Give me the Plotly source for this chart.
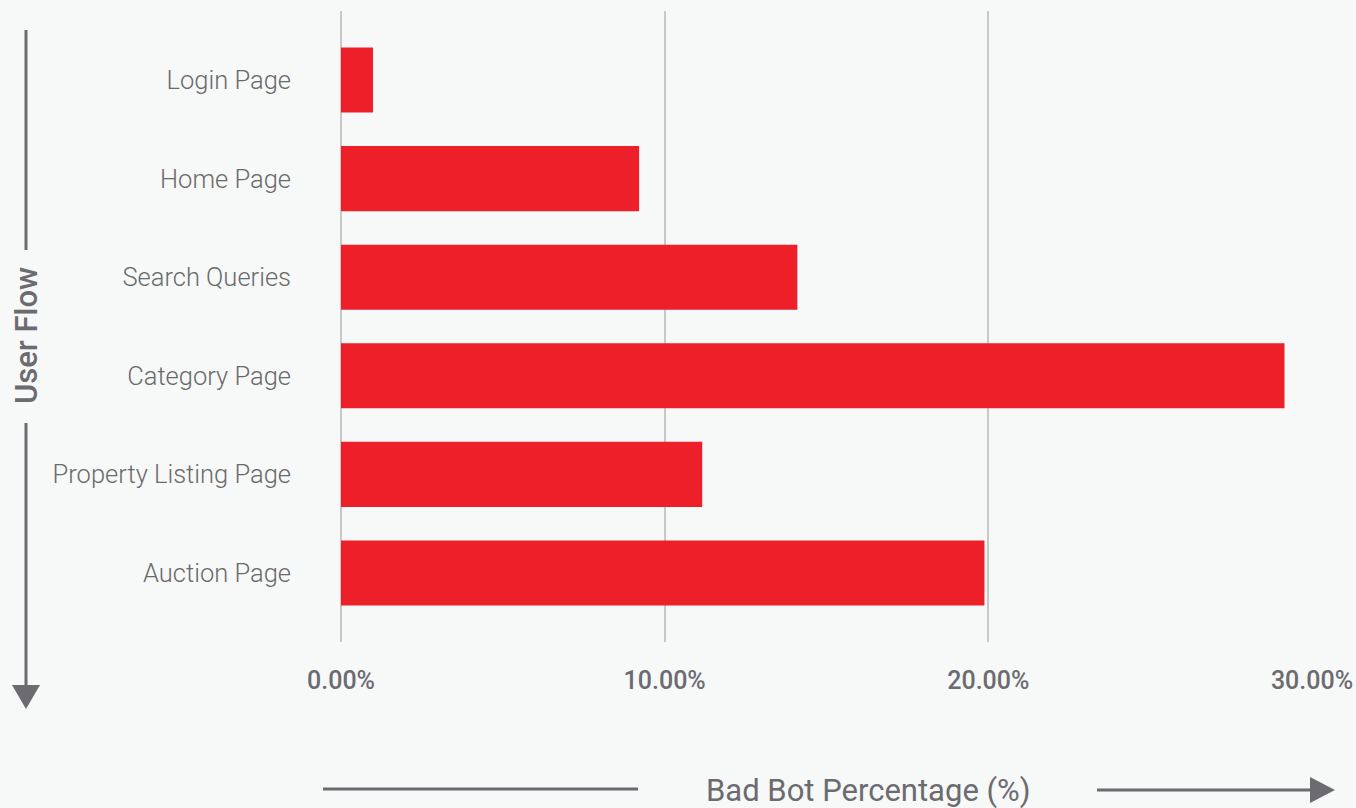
import plotly.graph_objects as go

categories = ["Login Page", "Home Page", "Search Queries", "Category Page",
              "Property Listing Page", "Auction Page"]
bad_bot_pct = [0.0099, 0.0921, 0.1410, 0.2915, 0.1116, 0.1988]
x_tick_vals = [0.0, 0.10, 0.20, 0.30]
x_tick_text = ["0.00%", "10.00%", "20.00%", "30.00%"]

W, H = 1356, 808
L, R, T, B = 341, 44, 11, 166
PW, PH = W - L - R, H - T - B

def px(x):
    return (x - L) / PW

def py(y):
    return (H - B - y) / PH

GREY = "#6b6b70"
BG = "#f7f8f8"

fig = go.Figure()
fig.add_trace(go.Bar(
    x=bad_bot_pct, y=categories, orientation="h",
    marker=dict(color="#ed2029", line=dict(width=0)),
    width=0.66, hoverinfo="x+y",
))

shapes = []
line_style = dict(color=GREY, width=3)
# vertical "User Flow" arrow
shapes.append(dict(type="line", xref="paper", yref="paper",
                   x0=px(26), x1=px(26), y0=py(30), y1=py(250), line=line_style))
shapes.append(dict(type="line", xref="paper", yref="paper",
                   x0=px(26), x1=px(26), y0=py(423), y1=py(690), line=line_style))
shapes.append(dict(type="path", xref="paper", yref="paper",
                   path=f"M {px(12)},{py(685)} L {px(40)},{py(685)} L {px(26)},{py(709)} Z",
                   fillcolor=GREY, line=dict(width=0)))
# horizontal "Bad Bot Percentage" arrow
shapes.append(dict(type="line", xref="paper", yref="paper",
                   x0=px(323), x1=px(638), y0=py(789), y1=py(789), line=line_style))
shapes.append(dict(type="line", xref="paper", yref="paper",
                   x0=px(1097), x1=px(1314), y0=py(790), y1=py(790), line=line_style))
shapes.append(dict(type="path", xref="paper", yref="paper",
                   path=f"M {px(1310)},{py(777)} L {px(1310)},{py(803)} L {px(1335)},{py(790)} Z",
                   fillcolor=GREY, line=dict(width=0)))

annotations = [
    dict(text="User Flow", xref="paper", yref="paper", x=px(26), y=py(336),
         showarrow=False, textangle=-90, xanchor="center", yanchor="middle",
         font=dict(family="Roboto", size=31, color=GREY, weight=500)),
    dict(text="Bad Bot Percentage (%)", xref="paper", yref="paper", x=px(868), y=py(790),
         showarrow=False, xanchor="center", yanchor="middle",
         font=dict(family="Roboto", size=31, color=GREY, weight=400)),
]

fig.update_layout(
    width=W, height=H,
    margin=dict(l=L, r=R, t=T, b=B, pad=0, autoexpand=False),
    paper_bgcolor=BG, plot_bgcolor=BG,
    showlegend=False,
    shapes=shapes,
    annotations=annotations,
    xaxis=dict(
        range=[0, 0.30], tickvals=x_tick_vals, ticktext=x_tick_text,
        showgrid=True, gridcolor="#c8c8c8", gridwidth=1.5,
        zeroline=True, zerolinecolor="#c8c8c8", zerolinewidth=1.5,
        showline=False, ticks="", ticklabelstandoff=21, automargin=False,
        tickfont=dict(family="Roboto", size=25, color=GREY, weight=500),
        fixedrange=True,
    ),
    yaxis=dict(
        categoryorder="array", categoryarray=categories,
        range=[5.7, -0.7],
        showgrid=False, zeroline=False, showline=False, ticks="",
        ticklabelstandoff=49, automargin=False,
        tickfont=dict(family="Roboto", size=25.5, color="#6a6a6a", weight=300),
        fixedrange=True,
    ),
)

fig.write_html("out.html", config={"displayModeBar": False},
               post_script="document.body.style.margin='0';document.body.style.padding='0';document.body.style.overflow='hidden';")
